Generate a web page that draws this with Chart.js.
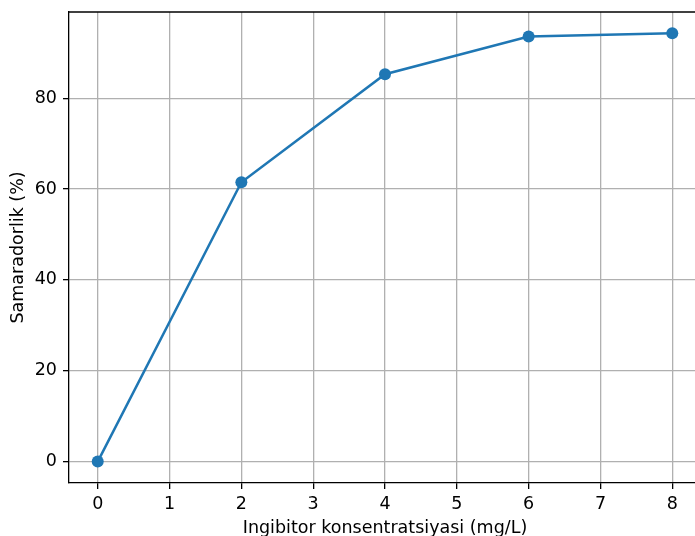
<!DOCTYPE html>
<html>
<head>
<meta charset="utf-8">
<script src="https://cdn.jsdelivr.net/npm/chart.js@4.4.1/dist/chart.umd.min.js"></script>
<style>
    html, body { margin: 0; padding: 0; background: #fff; overflow: hidden; }
    #wrap { width: 695px; height: 536px; overflow: hidden; }
</style>
</head>
<body>
<div id="wrap"><canvas id="chart" width="720" height="536"></canvas></div>
<script>
// Data
const concentrations = [0, 2, 4, 6, 8];
const efficiency = [0, 61.5, 85.3, 93.6, 94.3];
const xTicks = [0, 1, 2, 3, 4, 5, 6, 7, 8];
const yTicks = [0, 20, 40, 60, 80];

const FONT = 'DejaVu Sans';
const FS = 17.5;

// matplotlib style top spine (the right one is cropped off in the reference)
const topSpine = {
    id: 'topSpine',
    afterDraw(chart) {
        const { ctx, chartArea: a } = chart;
        ctx.save();
        ctx.strokeStyle = '#000';
        ctx.lineWidth = 1.3;
        ctx.beginPath();
        ctx.moveTo(a.left, a.top);
        ctx.lineTo(a.right, a.top);
        ctx.stroke();
        ctx.restore();
    }
};

const whiteBg = {
    id: 'whiteBg',
    beforeDraw(chart) {
        const ctx = chart.ctx;
        ctx.save();
        ctx.fillStyle = '#fff';
        ctx.fillRect(0, 0, chart.width, chart.height);
        ctx.restore();
    }
};

new Chart(document.getElementById('chart').getContext('2d'), {
    type: 'line',
    data: {
        datasets: [{
            data: concentrations.map((x, i) => ({ x: x, y: efficiency[i] })),
            borderColor: '#1f77b4',
            backgroundColor: '#1f77b4',
            borderWidth: 2.5,
            pointRadius: 6,
            pointHoverRadius: 6,
            pointBorderWidth: 0,
            tension: 0
        }]
    },
    options: {
        responsive: false,
        animation: false,
        devicePixelRatio: 1,
        layout: { padding: { top: 12, right: 19, left: 0, bottom: 0 } },
        plugins: {
            legend: { display: false },
            tooltip: { enabled: false }
        },
        scales: {
            x: {
                type: 'linear',
                min: -0.4,
                max: 8.4,
                afterBuildTicks: s => { s.ticks = xTicks.map(v => ({ value: v })); },
                afterFit: s => { s.height = 53; s.paddingLeft = 0; s.paddingRight = 0; },
                grid: { color: '#b0b0b0', lineWidth: 1.3, tickColor: '#000', tickLength: 6 },
                border: { color: '#000', width: 1.3 },
                ticks: { color: '#000', padding: 5, font: { family: FONT, size: FS }, maxRotation: 0 },
                title: {
                    display: true,
                    text: 'Ingibitor konsentratsiyasi (mg/L)',
                    color: '#000',
                    font: { family: FONT, size: FS },
                    padding: { top: 0, bottom: -3 }
                }
            },
            y: {
                type: 'linear',
                min: -4.72,
                max: 99.0,
                afterBuildTicks: s => { s.ticks = yTicks.map(v => ({ value: v })); },
                afterFit: s => { s.width = 69; s.paddingTop = 0; s.paddingBottom = 0; },
                grid: { color: '#b0b0b0', lineWidth: 1.3, tickColor: '#000', tickLength: 6 },
                border: { color: '#000', width: 1.3 },
                ticks: { color: '#000', padding: 6, font: { family: FONT, size: FS } },
                title: {
                    display: true,
                    text: 'Samaradorlik (%)',
                    color: '#000',
                    font: { family: FONT, size: FS },
                    padding: { top: 8, bottom: 0 }
                }
            }
        }
    },
    plugins: [whiteBg, topSpine]
});
</script>
</body>
</html>
